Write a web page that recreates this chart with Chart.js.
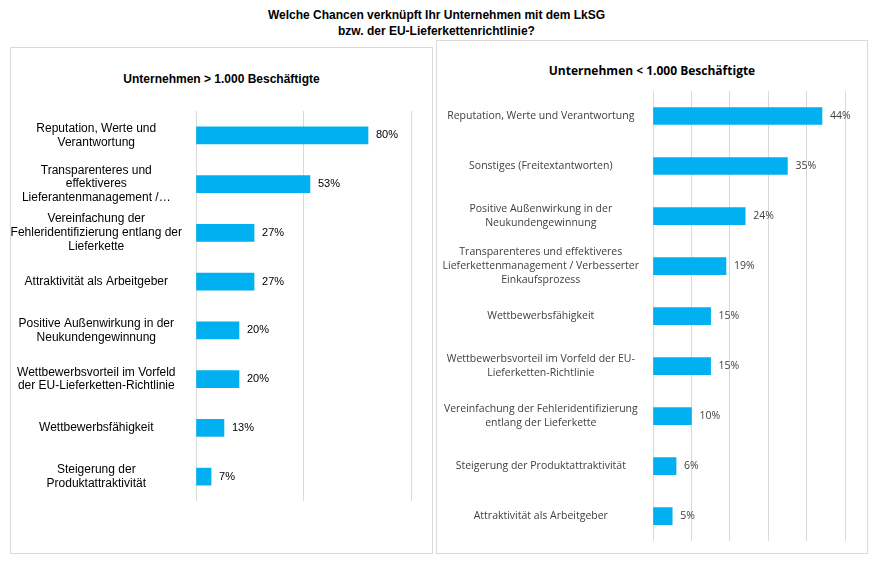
<!DOCTYPE html><html><head><meta charset="utf-8">
<script src="https://cdn.jsdelivr.net/npm/chart.js@4"></script>
<style>
body{margin:0;background:#fff;width:873px;height:562px;position:relative;font-family:"Liberation Sans",Arial,sans-serif;overflow:hidden}
.t{position:absolute;left:0;width:873px;top:7px;text-align:center;font-weight:bold;font-size:12px;line-height:16px}
.p{position:absolute;border:1px solid #d9d9d9;box-sizing:border-box}
.h{position:absolute;font-weight:bold;font-size:12px;text-align:center}
canvas{position:absolute}
</style></head><body>
<div class="t">Welche Chancen verknüpft Ihr Unternehmen mit dem LkSG<br>bzw. der EU-Lieferkettenrichtlinie?</div>
<div class="p" style="left:10px;top:47px;width:423px;height:507px"></div>
<div class="p" style="left:436px;top:40px;width:432px;height:514px"></div>
<div class="h" style="left:10px;width:423px;top:72px">Unternehmen &gt; 1.000 Beschäftigte</div>
<div class="h" style="left:436px;width:432px;top:62px;font-family:'Open Sans',sans-serif;font-size:12px">Unternehmen &lt; 1.000 Beschäftigte</div>
<div style="position:absolute;left:10px;top:47px;width:423px;height:507px"><canvas id="c1"></canvas></div>
<div style="position:absolute;left:436px;top:47px;width:431px;height:507px"><canvas id="c2"></canvas></div>
<script>
const leftCategories=[["Reputation, Werte und","Verantwortung"],["Transparenteres und","effektiveres","Lieferantenmanagement /…"],["Vereinfachung der","Fehleridentifizierung entlang der","Lieferkette"],"Attraktivität als Arbeitgeber",["Positive Außenwirkung in der","Neukundengewinnung"],["Wettbewerbsvorteil im Vorfeld","der EU-Lieferketten-Richtlinie"],"Wettbewerbsfähigkeit",["Steigerung der","Produktattraktivität"]];
const leftValues=[80,53,27,27,20,20,13,7];
const rightCategories=["Reputation, Werte und Verantwortung","Sonstiges (Freitextantworten)",["Positive Außenwirkung in der","Neukundengewinnung"],["Transparenteres und effektiveres","Lieferkettenmanagement / Verbesserter","Einkaufsprozess"],"Wettbewerbsfähigkeit",["Wettbewerbsvorteil im Vorfeld der EU-","Lieferketten-Richtlinie"],["Vereinfachung der Fehleridentifizierung","entlang der Lieferkette"],"Steigerung der Produktattraktivität","Attraktivität als Arbeitgeber"];
const rightValues=[44,35,24,19,15,15,10,6,5];
const valLabels={id:'vl',afterDatasetsDraw(ch,a,o){const ctx=ch.ctx;const m=ch.getDatasetMeta(0);ctx.save();ctx.font=o.font;ctx.fillStyle=o.color;ctx.textBaseline='middle';m.data.forEach((b,i)=>{ctx.fillText(ch.data.datasets[0].data[i]+'%',b.x+o.off,b.y);});ctx.restore();}};
function mk(id,cats,vals,max,step,yw,pad,font,fcol,vfont){
 new Chart(document.getElementById(id),{type:'bar',data:{labels:cats,datasets:[{data:vals,backgroundColor:'#00b0f0',barThickness:17}]},
 options:{indexAxis:'y',responsive:true,maintainAspectRatio:false,animation:false,layout:{padding:pad},
 plugins:{legend:{display:false},tooltip:{enabled:false},vl:{font:vfont,color:fcol,off:8}},
 scales:{x:{min:0,max:max,ticks:{display:false,stepSize:step},grid:{color:'#d9d9d9',drawTicks:false},border:{display:false},afterFit(s){s.height=0}},
 y:{grid:{display:false},border:{display:false},ticks:{color:fcol,font:font,padding:6,crossAlign:'center'},afterFit(s){s.width=yw}}}},plugins:[valLabels]});
}
mk('c1',leftCategories,leftValues,100,50,186,{top:64,bottom:53,right:22,left:0},{family:'Liberation Sans',size:12,lineHeight:1.15},'#000','11px "Liberation Sans"');
mk('c2',rightCategories,rightValues,50,10,217,{top:44,bottom:12,right:22,left:0},{family:'Open Sans',size:10.5,lineHeight:1.3},'#404040','10.5px "Open Sans"');
</script></body></html>
